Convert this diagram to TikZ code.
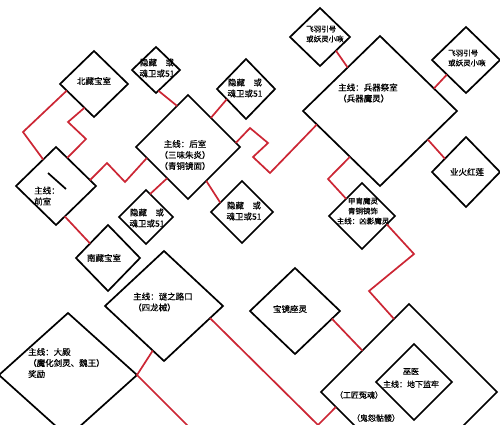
\documentclass[tikz,border=0pt]{standalone}
\usepackage{fontspec}
\setmainfont{Noto Sans CJK SC}[FakeBold=0.4]
\usetikzlibrary{shapes.geometric,calc}
\definecolor{linkred}{RGB}{204,38,52}

\begin{document}
\begin{tikzpicture}[x=1pt,y=-1pt,
  room/.style={draw,diamond,line width=1.7pt,inner sep=0pt,outer sep=0pt},
  link/.style={draw=linkred,line width=1.7pt},
  txt/.style={inner sep=0pt,align=center,font=\fontsize{8.5}{11}\selectfont},
  ltxt/.style={txt,align=left,anchor=west},
  tiny/.style={font=\fontsize{7.5}{10}\selectfont}]
\useasboundingbox (0,0) rectangle (500,424);
\clip (0,0) rectangle (500,424);
\fill[white] (0,0) rectangle (500,424);
% rooms
\node[room,minimum width=68,minimum height=66] (nbs) at (94,84) {};
\node[room,minimum width=48,minimum height=46] (yc1) at (156,70) {};
\node[room,minimum width=104,minimum height=104] (hs) at (188,147) {};
\node[room,minimum width=80,minimum height=78] (qs) at (56,186) {};
\node[room,minimum width=58,minimum height=60] (yc2) at (246,89) {};
\node[room,minimum width=60,minimum height=58] (fy1) at (320,37) {};
\node[room,minimum width=154,minimum height=150] (bq) at (380,111) {};
\node[room,minimum width=68,minimum height=66] (fy2) at (466,60) {};
\node[room,minimum width=68,minimum height=70] (yh) at (466,172) {};
\node[room,minimum width=66,minimum height=66] (jz) at (362,216) {};
\node[room,minimum width=54,minimum height=54] (yc3) at (146,217) {};
\node[room,minimum width=62,minimum height=62] (yc4) at (242,212) {};
\node[room,minimum width=64,minimum height=66] (nbs2) at (108,258) {};
\node[room,minimum width=118,minimum height=110] (mz) at (164,306) {};
\node[room,minimum width=138,minimum height=124] (dd) at (68,375) {};
\node[room,minimum width=90,minimum height=86] (bj) at (295,311) {};
\node[room,minimum width=176,minimum height=176] (gj) at (409,392) {};
\node[room,minimum width=76,minimum height=76] (wy) at (414,382) {};
\draw[line width=1.7pt] ($(qs)+(-8,-13)$) -- ($(qs)+(10,3)$);
% labels
\node[txt] (nbs-t) at (94,81) {北藏宝室};
\node[txt] (yc1-t) at (157,68) {隐藏　或\\魂卫或51};
\node[txt] (hs-t) at (185,155) {主线：后室\\（三味朱炎）\\（青铜镜面）};
\node[ltxt] (qs-t) at (34,196) {主线：\\前室};
\node[txt] (yc2-t) at (245,88) {隐藏　或\\魂卫或51};
\node[ltxt,tiny] (fy1-t) at (306,34) {飞羽引号\\或妖灵小咴};
\node[ltxt,tiny] (fy2-t) at (448,58) {飞羽引号\\或妖灵小咴};
\node[ltxt] (bq-t) at (338,93) {主线：兵器祭室\\（兵器魔灵）};
\node[txt] (yh-t) at (467,172) {业火红莲};
\node[txt,tiny] (jz-t) at (363,211) {甲胄魔灵\\青铜镜饰\\主线：凶影魔灵};
\node[txt] (yc3-t) at (147,218) {隐藏　或\\魂卫或51};
\node[txt] (yc4-t) at (244,211) {隐藏　或\\魂卫或51};
\node[txt] (nbs2-t) at (104,258) {南藏宝室};
\node[ltxt] (mz-t) at (133,302) {主线：谜之路口\\（四龙械）};
\node[ltxt] (dd-t) at (28,363) {主线：大殿\\（魔化剑灵、魏王）\\奖励};
\node[txt] (bj-t) at (290,309) {宝镜座灵};
\node[txt,font=\fontsize{8}{10}\selectfont] (gj-t1) at (359,395) {（工匠冤魂）};
\node[txt,font=\fontsize{8}{10}\selectfont] (gj-t2) at (376,418) {（鬼怨骷髅）};
\node[txt,font=\fontsize{8}{13}\selectfont] (wy-t) at (411,378) {巫医\\主线：地下监牢};
% links
\coordinate (ddout) at (200,438);
\draw[link] ($(nbs.west)!.2!(nbs.south)$) -- (23,132) -- ($(qs.west)!.68!(qs.north)$);
\draw[link] ($(nbs.west)!.72!(nbs.south)$) -- (68,122) -- (86,139) -- ($(qs.north)!.28!(qs.east)$);
\draw[link] ($(qs.north)!.85!(qs.east)$) -- (107,163) -- (125,182) -- ($(hs.west)!.21!(hs.south)$);
\draw[link] ($(qs.south)!.22!(qs.east)$) -- ($(nbs2.west)!.44!(nbs2.north)$);
\draw[link] ($(yc1.south)!.1!(yc1.east)$) -- ($(hs.north)!.21!(hs.west)$);
\draw[link] ($(hs.north)!.44!(hs.east)$) -- ($(yc2.west)!.34!(yc2.south)$);
\draw[link] ($(hs.south)!.4!(hs.west)$) -- ($(yc3.north)!.15!(yc3.east)$);
\draw[link] ($(hs.south)!.35!(hs.east)$) -- ($(yc4.west)!.3!(yc4.north)$);
\draw[link] ($(hs.north)!.92!(hs.east)$) -- (250,128) -- (268,143) -- (253,157) -- (270,173) -- ($(bq.west)!.18!(bq.south)$);
\draw[link] ($(bq.west)!.58!(bq.north)$) -- ($(fy1.south)!.53!(fy1.east)$);
\draw[link] ($(bq.north)!.7!(bq.east)$) -- ($(fy2.west)!.44!(fy2.south)$);
\draw[link] ($(bq.east)!.38!(bq.south)$) -- ($(yh.west)!.38!(yh.north)$);
\draw[link] ($(bq.west)!.61!(bq.south)$) -- (328,179) -- ($(jz.west)!.52!(jz.north)$);
\draw[link] ($(jz.east)!.25!(jz.south)$) -- (414,254) -- (369,291) -- ($(gj.north)!.17!(gj.west)$);
\draw[link] ($(bj.east)!.18!(bj.south)$) -- ($(gj.west)!.47!(gj.north)$);
\draw[link] ($(mz.south)!.19!(mz.west)$) -- (dd.east) -- (ddout);
\draw[link] ($(mz.east)!.22!(mz.south)$) -- (318,425) -- ($(gj.west)!.17!(gj.south)$);
\end{tikzpicture}
\end{document}
